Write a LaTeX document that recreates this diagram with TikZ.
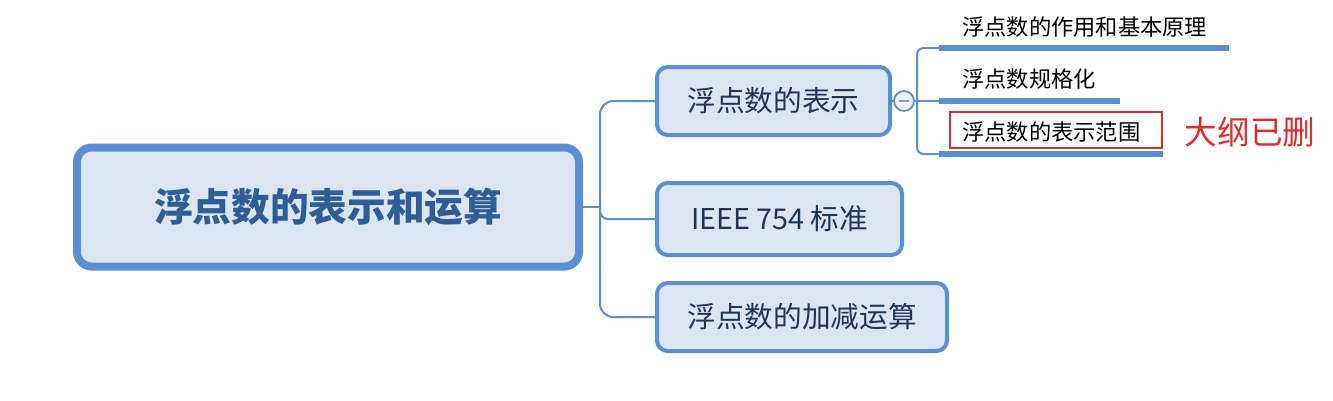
\documentclass[tikz,border=0pt]{standalone}
\usepackage{fontspec}
\setmainfont{Noto Sans CJK SC}
\definecolor{bord}{HTML}{5A8FD4}
\definecolor{boxfill}{HTML}{DCE6F2}
\definecolor{roottext}{HTML}{2F5D95}
\definecolor{childtext}{HTML}{1E3658}
\definecolor{redmark}{HTML}{E52A2A}
\definecolor{minusgray}{HTML}{8A9AB0}
\tikzset{
  rootbox/.style={draw=bord, line width=6pt, fill=boxfill, rounded corners=11pt, text=roottext,
    font=\fontsize{29}{34}\selectfont\bfseries, inner sep=0pt},
  childbox/.style={draw=bord, line width=3pt, fill=boxfill, rounded corners=8pt, text=childtext,
    font=\fontsize{21.5}{25}\selectfont, inner sep=0pt},
  conn/.style={draw=bord, line width=1.5pt},
  under/.style={draw=bord, line width=3.8pt},
  subtext/.style={font=\fontsize{16.7}{20}\selectfont, text=black, inner sep=0pt, anchor=west},
  redbox/.style={draw=redmark, line width=1.5pt, inner sep=0pt},
  collapse/.style={circle, draw=bord, line width=1.3pt, fill=boxfill!60!white, minimum size=15pt, inner sep=0pt},
}
\begin{document}
\begin{tikzpicture}[x=0.75pt, y=-0.75pt]
\useasboundingbox (0,0) rectangle (1333,400);
% root
\node[rootbox, minimum width=502*0.75pt, minimum height=119*0.75pt] (root) at (328,207) {浮点数的表示和运算};
% children
\node[childbox, minimum width=233*0.75pt, minimum height=68*0.75pt] (c1) at (773.5,101) {浮点数的表示};
\node[childbox, minimum width=245*0.75pt, minimum height=72*0.75pt] (c2) at (779.5,219) {IEEE 754 标准};
\node[childbox, minimum width=290*0.75pt, minimum height=68*0.75pt] (c3) at (802,317) {浮点数的加减运算};
% root connectors
\coordinate (tr) at (600,207);
\draw[conn] (root.east) -- (tr);
\draw[conn, rounded corners=10pt] (tr) |- (c1.west);
\draw[conn, rounded corners=6pt] (tr) |- (c2.west);
\draw[conn, rounded corners=10pt] (tr) |- (c3.west);
% collapse button
\node[collapse] (col) at (904,101) {};
\draw[minusgray, line width=1.2pt] ([xshift=-4pt]col.center) -- ([xshift=4pt]col.center);
\draw[conn] (c1.east) -- (col.west);
% subtopic lines
\coordinate (j) at (917,101);
\coordinate (u1a) at (939,48);
\coordinate (u1b) at (1229,48);
\coordinate (u2a) at (939,101);
\coordinate (u2b) at (1120,101);
\coordinate (u3a) at (939,154);
\coordinate (u3b) at (1163,154);
\draw[conn] (col.east) -- (u2a);
\draw[conn, rounded corners=5pt] (j) |- (u1a);
\draw[conn, rounded corners=5pt] (j) |- (u3a);
\draw[under] (u1a) -- (u1b);
\draw[under] (u2a) -- (u2b);
\draw[under] (u3a) -- (u3b);
% subtopic texts
\node[subtext] (s1) at (962,27) {浮点数的作用和基本原理};
\node[subtext] (s2) at (962,79) {浮点数规格化};
\node[subtext] (s3) at (962,132) {浮点数的表示范围};
% red mark
\node[redbox, minimum width=212*0.75pt, minimum height=36*0.75pt] (rb) at (1056,130) {};
\node[font=\fontsize{24.5}{28}\selectfont, text=redmark, inner sep=0pt] (del) at (1250,132) {大纲已删};
\end{tikzpicture}
\end{document}
